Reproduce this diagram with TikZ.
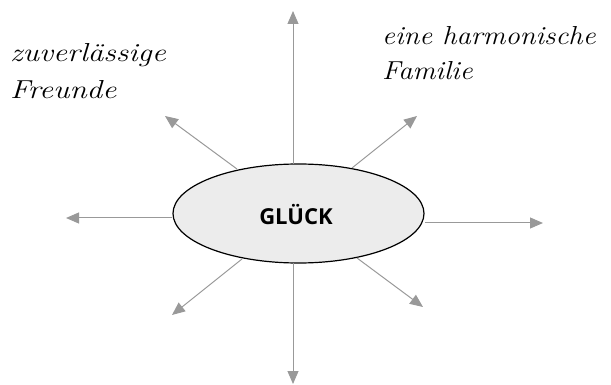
\documentclass[tikz,border=0pt]{standalone}
\usepackage{fontspec}
\usetikzlibrary{arrows.meta,shapes.geometric}
\newfontfamily\glfont{Open Sans}
\definecolor{arrgray}{HTML}{999999}
\definecolor{ellfill}{HTML}{ECECEC}
\newcommand{\handtxt}[2][1.2]{\scalebox{#1}[1]{#2}}
\begin{document}
\begin{tikzpicture}[x=1pt,y=-1pt,
  ray/.style={draw=arrgray,line width=1pt,-{Triangle[length=13pt,width=11pt]}},
  hand/.style={font=\fontsize{26}{32}\selectfont\itshape,anchor=base west,inner sep=0pt,align=left}]
\useasboundingbox (0,0) rectangle (611,385);
\node[ellipse,draw=black,line width=1.2pt,fill=ellfill,minimum width=251pt,minimum height=99pt,inner sep=0pt] (g) at (298.5,213.5) {};
\node[font=\glfont\bfseries\fontsize{22}{24}\selectfont] (t) at (296,215) {GLÜCK};
\coordinate (s1) at (293,164); \coordinate (e1) at (293,11);
\coordinate (s2) at (293,263); \coordinate (e2) at (293,384);
\coordinate (s3) at (172,218); \coordinate (e3) at (66,218);
\coordinate (s4) at (425,223); \coordinate (e4) at (543,223);
\coordinate (s5) at (237,169); \coordinate (e5) at (165,116);
\coordinate (s6) at (352,168); \coordinate (e6) at (417,116);
\coordinate (s7) at (242,259); \coordinate (e7) at (172,315);
\coordinate (s8) at (357,258); \coordinate (e8) at (423,307);
\foreach \i in {1,...,8} \draw[ray] (s\i) -- (e\i);
\node[hand] (a1) at (10,62) {\handtxt{zuverlässige}};
\node[hand] (a2) at (10,99) {\handtxt{Freunde}};
\node[hand] (b1) at (382,45) {\handtxt[1.1]{eine harmonische}};
\node[hand] (b2) at (382,80) {\handtxt[1.1]{Familie}};
\end{tikzpicture}
\end{document}
